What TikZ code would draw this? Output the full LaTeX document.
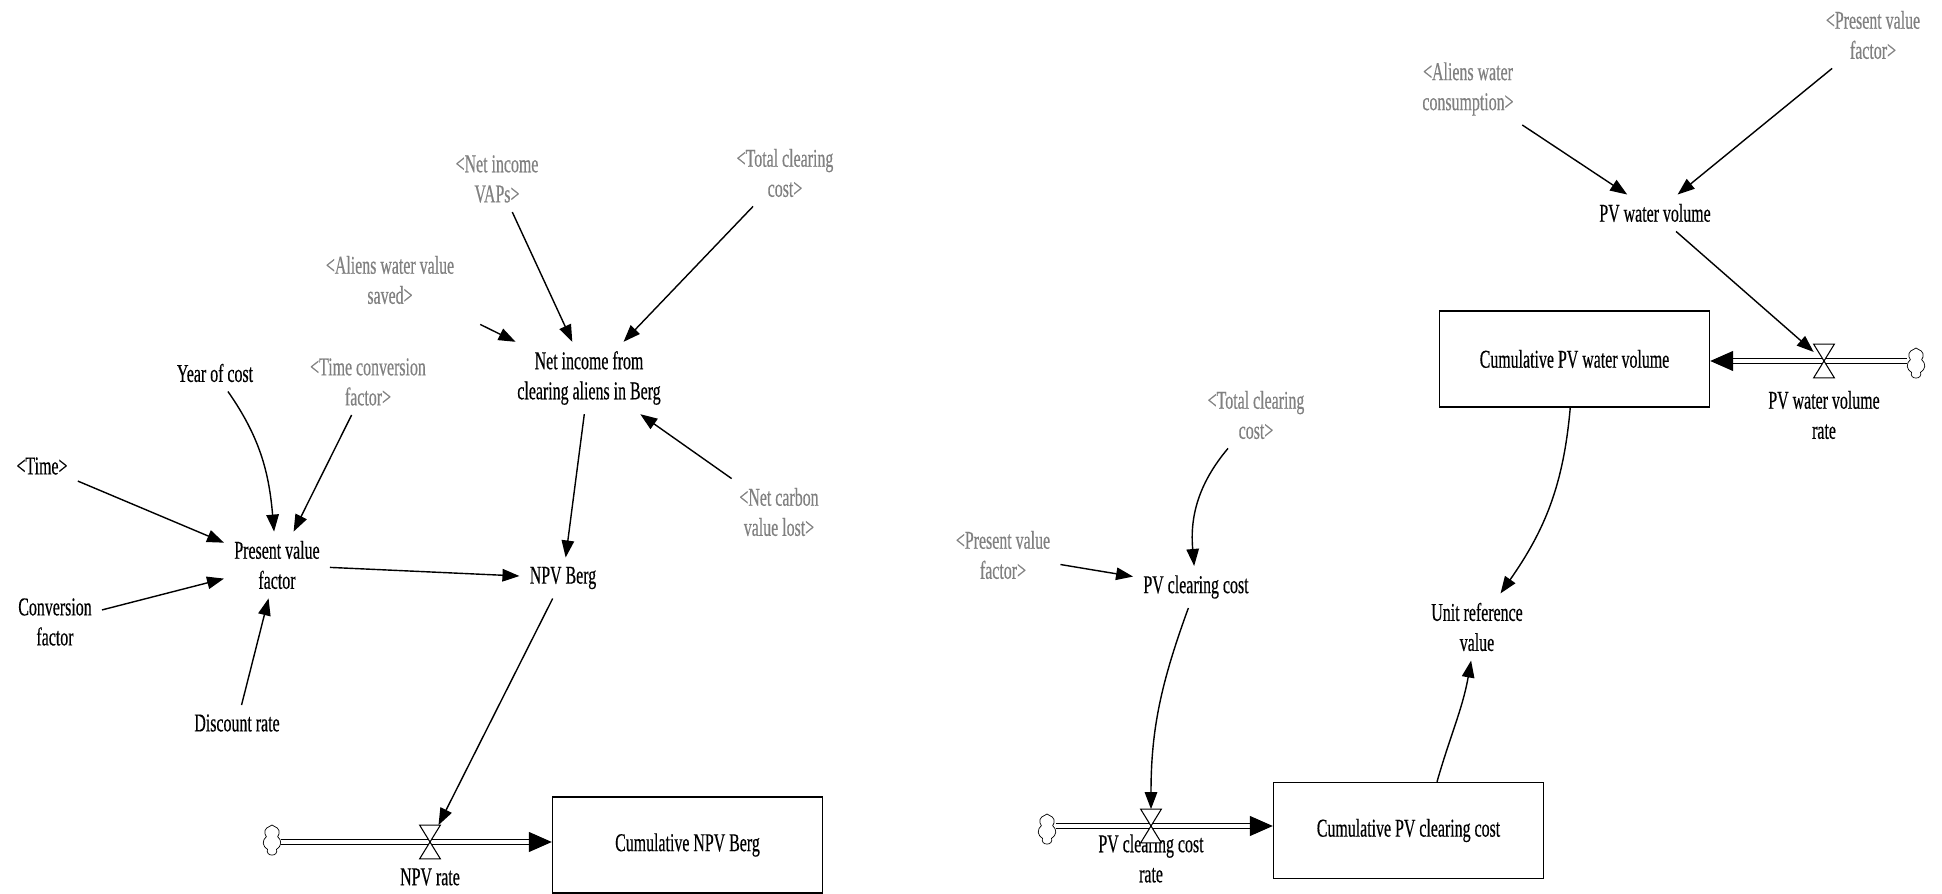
\documentclass[tikz,border=0pt]{standalone}
\usepackage{fontspec}
\setmainfont{Liberation Serif}[FakeStretch=0.62, FakeBold=0.4]
\usepackage{xcolor}
\usepackage{tikz}
\usetikzlibrary{arrows.meta, shapes.symbols}
\definecolor{shadowgray}{RGB}{128,128,128}

\begin{document}
\begin{tikzpicture} [
    font=\fontsize{14.6}{17.1}\selectfont,
    aux/.style={align=center, inner xsep=0.2cm, inner ysep=0.18cm},
    ghost/.style={aux, text=shadowgray},
    stock/.style={rectangle, draw, thick, minimum width=5.4cm, minimum height=1.92cm, align=center},
    valve/.style={rectangle, minimum width=0.4cm, minimum height=0.66cm, inner sep=0pt},
    valve_line/.style={draw, semithick, fill=white},
    source/.style={cloud, cloud puffs=7, cloud puff arc=120, aspect=0.6, draw, thin, minimum width=0.36cm, minimum height=0.6cm, inner sep=0pt},
    link/.style={-{Triangle[length=0.34cm, width=0.25cm]}, thick},
    pipe/.style={-{Triangle[length=0.46cm, width=0.4cm]}, double, double distance=0.07cm, line width=0.7pt}
]
    \useasboundingbox (0,0) rectangle (38.84,-17.88);

    % Present value factor and its inputs
    \node[aux] (pv_factor) at (5.54,-11.30) {Present value\\factor};
    \node[aux] (year_cost) at (4.30,-7.46) {Year of cost};
    \node[aux] (time_var) at (0.84,-9.32) {<Time>};
    \node[aux] (conv_factor) at (1.10,-12.44) {Conversion\\factor};
    \node[aux] (discount_rate) at (4.74,-14.46) {Discount rate};
    \node[ghost] (time_conv) at (7.36,-7.64) {<Time conversion\\factor>};

    % Net income and NPV Berg
    \node[aux] (net_income) at (11.78,-7.56) {Net income from\\clearing aliens in Berg};
    \node[aux] (npv_berg) at (11.26,-11.56) {NPV Berg};
    \node[ghost] (income_vaps) at (9.94,-3.58) {<Net income\\VAPs>};
    \node[ghost] (clearing_cost_a) at (15.70,-3.46) {<Total clearing\\cost>};
    \node[ghost] (water_value) at (7.80,-5.60) {<Aliens water value\\saved>};
    \node[ghost] (carbon_value) at (15.58,-10.24) {<Net carbon\\value lost>};

    % NPV stock and flow
    \node[stock] (npv_stock) at (13.75,-16.90) {Cumulative NPV Berg};
    \node[valve] (npv_rate) at (8.60,-16.84) {};
    \node[aux] (npv_rate_label) at (8.60,-17.54) {NPV rate};
    \node[source] (npv_cloud) at (5.44,-16.80) {};

    % PV water volume
    \node[ghost] (water_cons) at (29.36,-1.78) {<Aliens water\\consumption>};
    \node[ghost] (pv_factor_b) at (37.46,-0.70) {<Present value\\factor>};
    \node[aux] (pv_water) at (33.10,-4.26) {PV water volume};
    \node[stock] (water_stock) at (31.49,-7.18) {Cumulative PV water volume};
    \node[valve] (water_rate) at (36.48,-7.22) {};
    \node[aux] (water_rate_label) at (36.48,-8.30) {PV water volume\\rate};
    \node[source] (water_cloud) at (38.32,-7.26) {};

    % PV clearing cost
    \node[ghost] (clearing_cost_b) at (25.12,-8.30) {<Total clearing\\cost>};
    \node[ghost] (pv_factor_c) at (20.06,-11.10) {<Present value\\factor>};
    \node[aux] (pv_clearing) at (23.92,-11.74) {PV clearing cost};
    \node[aux] (unit_ref) at (29.54,-12.54) {Unit reference\\value};
    \node[stock] (clearing_stock) at (28.17,-16.61) {Cumulative PV clearing cost};
    \node[valve] (clearing_rate) at (23.02,-16.52) {};
    \node[aux] (clearing_rate_label) at (23.02,-17.17) {PV clearing cost\\rate};
    \node[source] (clearing_cloud) at (20.94,-16.58) {};

    % Flows
    \draw[pipe] (npv_cloud.east |- npv_rate) -- (npv_rate -| npv_stock.west);
    \draw[pipe] (water_cloud.west |- water_rate) -- (water_rate -| water_stock.east);
    \draw[pipe] (clearing_cloud.east |- clearing_rate) -- (clearing_rate -| clearing_stock.west);
    \foreach \v in {npv_rate, water_rate, clearing_rate}
        \draw[valve_line] (\v.north west) -- (\v.north east) -- (\v.south west) -- (\v.south east) -- cycle;

    % Links, left part
    \draw[link] (time_var) -- (pv_factor);
    \draw[link] (conv_factor) -- (pv_factor);
    \draw[link] (discount_rate) -- (pv_factor);
    \draw[link] (time_conv) -- (pv_factor);
    \draw[link] (year_cost) to[out=-55, in=95] (pv_factor);
    \draw[link] (pv_factor) -- (npv_berg);
    \draw[link] (income_vaps) -- (net_income);
    \draw[link] (clearing_cost_a) -- (net_income);
    \draw[link, shorten <=0.5cm] (water_value) -- (net_income);
    \draw[link] (carbon_value) -- (net_income);
    \draw[link] (net_income) -- (npv_berg);
    \draw[link] (npv_berg) -- (npv_rate);

    % Links, right part
    \draw[link] (water_cons) -- (pv_water);
    \draw[link] (pv_factor_b) -- (pv_water);
    \draw[link] (pv_water) -- (water_rate);
    \draw[link] (water_stock) to[out=-95, in=55] (unit_ref);
    \draw[link] ([xshift=0.57cm]clearing_stock.north) to[out=74, in=-100] (unit_ref);
    \draw[link] (clearing_cost_b) to[out=-130, in=95] (pv_clearing);
    \draw[link] (pv_factor_c) -- (pv_clearing);
    \draw[link] (pv_clearing) to[out=-110, in=90] (clearing_rate);
\end{tikzpicture}
\end{document}
